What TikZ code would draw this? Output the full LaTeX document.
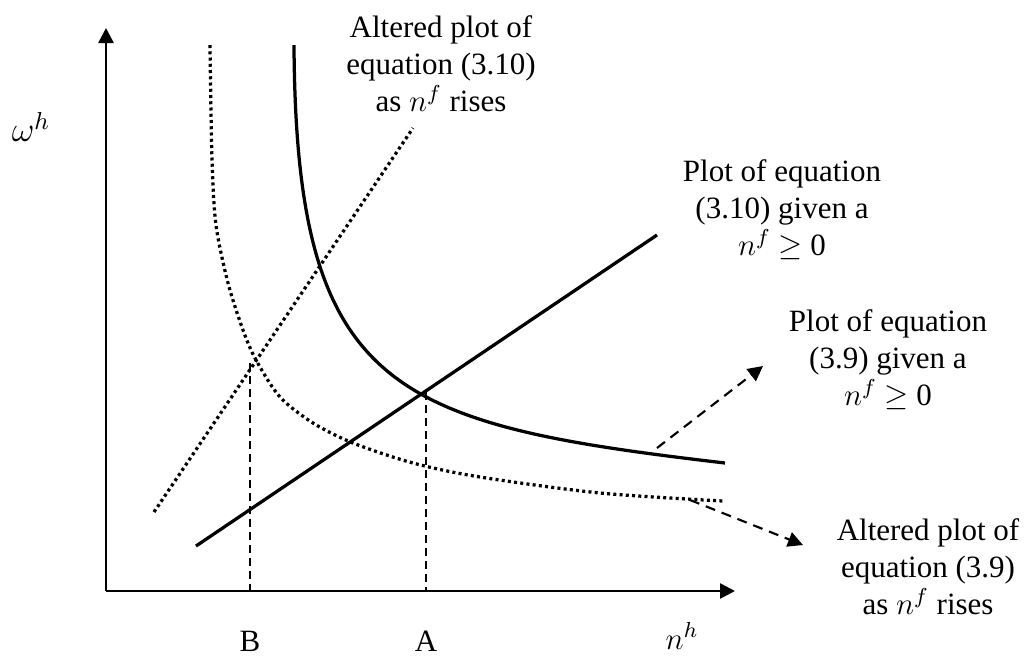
\documentclass[tikz,border=0pt]{standalone}
\usepackage{fix-cm}
\usepackage{fontspec}
\setmainfont{Liberation Serif}
\usetikzlibrary{arrows.meta}
\begin{document}
\begin{tikzpicture}[x=0.4pt,y=-0.4pt,
  lbl/.style={align=center,inner sep=0pt,font=\fontsize{12.4}{14.8}\selectfont},
  axis/.style={line width=1.05pt,-{Triangle[length=6pt,width=6pt]}},
  curve/.style={line width=1.3pt},
  dotcurve/.style={line width=1.3pt,dash pattern=on 1.2pt off 1.3pt},
  guide/.style={line width=0.65pt,dash pattern=on 3.2pt off 2pt},
  pointer/.style={line width=0.85pt,dash pattern=on 4pt off 2.8pt,-{Triangle[length=6pt,width=6pt]}}]
\useasboundingbox (0,0) rectangle (1034,656);
% axes
\coordinate (O) at (106,591);
\coordinate (ytop) at (106,28);
\coordinate (xend) at (735,591);
\draw[axis] (O) -- (ytop);
\draw[axis] (O) -- (xend);
% labels on axes
\node[lbl] (wh) at (31,127) {\fontsize{14}{16}\selectfont$\omega^h$};
\node[lbl] (nh) at (682,636) {$n^h$};
\node[lbl] (B) at (250,641) {B};
\node[lbl] (A) at (426,641) {A};
% rising solid line (3.10)
\coordinate (s1) at (196,546);
\coordinate (s2) at (657,235);
\draw[curve] (s1) -- (s2);
% rising dotted line
\coordinate (d1) at (154,512);
\coordinate (d2) at (413,128);
\draw[dotcurve] (d1) -- (d2);
% solid hyperbola
\coordinate (h1) at (294,45);
\coordinate (h2) at (725,463);
\draw[curve] (h1) .. controls (296,392) and (392,424) .. (h2);
% dotted hyperbola
\draw[dotcurve] plot[smooth,tension=0.5] coordinates {(210,45) (212,160) (216,225) (228,283) (243,330) (256,360) (280,397) (313,423) (353,443) (413,463) (480,477) (600,493) (723,501)};
% guides
\coordinate (Bt) at (250,363);
\coordinate (Bb) at (250,591);
\coordinate (At) at (426,392);
\coordinate (Ab) at (426,591);
\draw[guide] (Bt) -- (Bb);
\draw[guide] (At) -- (Ab);
% text labels
\node[lbl] (t1) at (441,64) {Altered plot of\\equation (3.10)\\as $n^f$ rises};
\node[lbl] (t2) at (782,210) {Plot of equation\\(3.10) given a\\$n^f$\ $\geq$ 0};
\node[lbl] (t3) at (888,360) {Plot of equation\\(3.9) given a\\$n^f$\ $\geq$ 0};
\node[lbl] (t4) at (928,567) {Altered plot of\\equation (3.9)\\as $n^f$ rises};
% pointers
\coordinate (p1s) at (657,448);
\coordinate (p1e) at (763,366);
\coordinate (p2s) at (690,500);
\coordinate (p2e) at (803,545);
\draw[pointer] (p1s) -- (p1e);
\draw[pointer] (p2s) -- (p2e);
\end{tikzpicture}
\end{document}
